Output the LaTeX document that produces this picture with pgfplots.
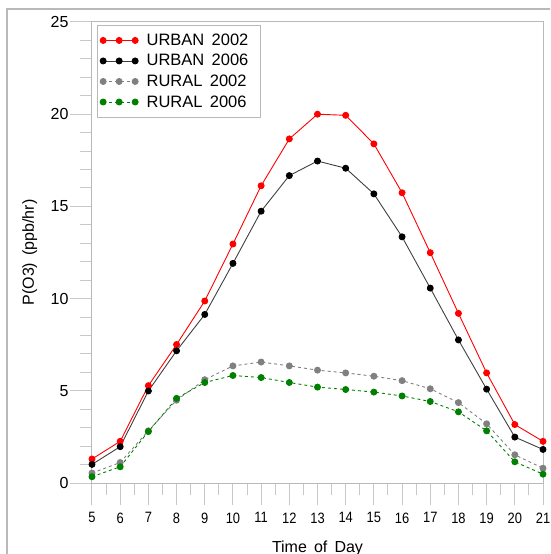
\documentclass[border=0pt]{standalone}
\usepackage{fontspec}
\setmainfont{Liberation Sans}
\usepackage{graphicx}
\usepackage{pgfplots}
\pgfplotsset{compat=1.18}

\definecolor{urb02}{RGB}{255,0,0}
\definecolor{urb06}{RGB}{0,0,0}
\definecolor{rur02}{RGB}{128,128,128}
\definecolor{rur06}{RGB}{0,128,0}
\definecolor{frame}{RGB}{185,185,185}
\definecolor{tickc}{RGB}{200,200,200}

% hourly P(O3), ppb/hr
\pgfplotstableread{
hour  u02    u06    r02   r06
5     1.30   1.01   0.54  0.34
6     2.26   1.97   1.11  0.88
7     5.28   4.99   2.83  2.79
8     7.51   7.17   4.49  4.59
9     9.87   9.14   5.60  5.45
10    12.96  11.91  6.35  5.83
11    16.12  14.74  6.56  5.72
12    18.66  16.67  6.35  5.45
13    20.00  17.46  6.12  5.20
14    19.94  17.07  5.97  5.07
15    18.39  15.68  5.79  4.93
16    15.74  13.35  5.55  4.72
17    12.49  10.57  5.11  4.42
18    9.20   7.76   4.36  3.86
19    5.97   5.09   3.21  2.83
20    3.17   2.49   1.53  1.15
21    2.26   1.82   0.80  0.48
}\ozone

\begin{document}
\begin{tikzpicture}
\useasboundingbox (0,0) rectangle (550pt,554pt);
\begin{scope}
\clip (0,0) rectangle (550pt,554pt);
\draw[frame, line width=1.2pt] (7pt,-20pt) -- (7pt,545pt) -- (580pt,545pt);
\begin{axis}[
    at={(92pt,71pt)}, anchor=south west,
    scale only axis,
    width=451pt, height=461pt,
    xmin=5, xmax=21, ymin=0, ymax=25,
    xtick={5,...,21},
    minor x tick num=1,
    ytick={0,5,...,25},
    minor y tick num=4,
    xtick pos=bottom, ytick pos=left,
    tick align=outside,
    major tick length=22pt,
    minor tick length=12pt,
    every tick/.style={tickc, line width=1pt},
    axis line style={frame, line width=1pt},
    /pgf/number format/assume math mode=true,
    yticklabel style={font=\fontsize{16}{18}\selectfont, xshift=2pt},
    xticklabel={\scalebox{0.86}[1]{\pgfmathprintnumber{\tick}}},
    xticklabel style={font=\fontsize{15}{17}\selectfont, yshift=-4pt},
    xlabel={Time\, of\, Day},
    ylabel={P(O3)\, (ppb/hr)},
    xlabel style={font=\fontsize{16}{18}\selectfont, at={(axis description cs:0.5,-0.141)}, anchor=center},
    ylabel style={font=\fontsize{16}{18}\selectfont, at={(axis description cs:-0.138,0.5)}, anchor=center},
    legend style={at={(axis description cs:0.011,0.993)}, anchor=north west,
        draw=frame, font=\fontsize{16.5}{18}\selectfont, row sep=3.5pt,
        inner xsep=3pt, inner ysep=6.5pt},
    legend cell align=left,
    legend image code/.code={
        \draw[mark repeat=1,#1] plot coordinates {(0pt,0pt) (16pt,0pt) (32pt,0pt)};
        \path (41pt,0pt);
    },
    every axis plot/.append style={mark=*, mark size=3pt, line width=0.9pt},
]
\addplot[urb02, mark options={fill=urb02}] table[x=hour, y=u02] {\ozone};
\addlegendentry{URBAN\, 2002\hspace*{7pt}}
\addplot[urb06!75!white, mark options={fill=urb06, draw=urb06}] table[x=hour, y=u06] {\ozone};
\addlegendentry{URBAN\, 2006\hspace*{7pt}}
\addplot[rur02, dashed, mark options={solid, fill=rur02}] table[x=hour, y=r02] {\ozone};
\addlegendentry{RURAL\, 2002\hspace*{7pt}}
\addplot[rur06, dashed, mark options={solid, fill=rur06}] table[x=hour, y=r06] {\ozone};
\addlegendentry{RURAL\, 2006\hspace*{7pt}}
\end{axis}
\end{scope}
\end{tikzpicture}
\end{document}
